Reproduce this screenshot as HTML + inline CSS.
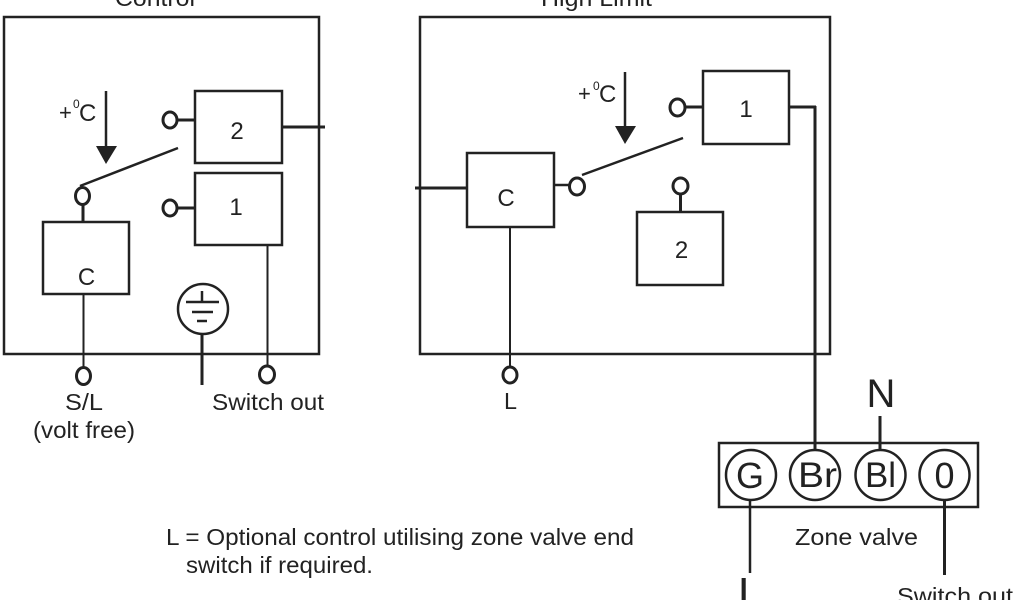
<!DOCTYPE html>
<html>
<head>
<meta charset="utf-8">
<style>
html,body{margin:0;padding:0;background:#fff;width:1024px;height:600px;overflow:hidden}
svg{display:block}
text{font-family:"Liberation Sans",sans-serif;fill:#222}
</style>
</head>
<body>
<svg width="1024" height="600" viewBox="0 0 1024 600" xmlns="http://www.w3.org/2000/svg">
<g fill="none" stroke="#222" stroke-width="2.5">
<!-- Control box -->
<rect x="4" y="17" width="315" height="337"/>
<rect x="195" y="91" width="87" height="72"/>
<rect x="195" y="173" width="87" height="72"/>
<rect x="43" y="222" width="86" height="72"/>
<line x1="282" y1="127" x2="325" y2="127" stroke-width="3"/>
<line x1="177" y1="120" x2="195" y2="120" stroke-width="3"/>
<line x1="177" y1="208" x2="195" y2="208" stroke-width="3"/>
<ellipse cx="170" cy="120" rx="7" ry="8" stroke-width="3"/>
<ellipse cx="170" cy="208" rx="7" ry="8" stroke-width="3"/>
<ellipse cx="82.5" cy="196" rx="7" ry="8.5" stroke-width="3"/>
<line x1="83" y1="204" x2="83" y2="222" stroke-width="3"/>
<line x1="80" y1="186" x2="178" y2="148"/>
<line x1="83.5" y1="294" x2="83.5" y2="368" stroke-width="2"/>
<ellipse cx="83.5" cy="376" rx="7" ry="8.5" stroke-width="3"/>
<line x1="267.5" y1="245" x2="267.5" y2="366" stroke-width="2"/>
<ellipse cx="267" cy="374.5" rx="7.5" ry="8.5" stroke-width="3"/>
<circle cx="203" cy="309" r="25"/>
<line x1="202" y1="334" x2="202" y2="385" stroke-width="3"/>
<line x1="202" y1="291" x2="202" y2="302"/>
<line x1="186" y1="302" x2="219" y2="302"/>
<line x1="192" y1="312" x2="213" y2="312"/>
<line x1="197" y1="321" x2="207" y2="321"/>
<line x1="106" y1="91" x2="106" y2="148"/>
<!-- High limit box -->
<rect x="420" y="17" width="410" height="337"/>
<rect x="703" y="71" width="86" height="73"/>
<rect x="467" y="153" width="87" height="74"/>
<rect x="637" y="212" width="86" height="73"/>
<line x1="415" y1="188" x2="467" y2="188" stroke-width="3"/>
<line x1="554" y1="185" x2="570" y2="185"/>
<ellipse cx="577" cy="186.5" rx="7.5" ry="8.5" stroke-width="3"/>
<line x1="582" y1="175" x2="683" y2="138"/>
<ellipse cx="677.5" cy="107.5" rx="7.5" ry="8.5" stroke-width="3"/>
<line x1="685" y1="107" x2="703" y2="107" stroke-width="3"/>
<ellipse cx="680.5" cy="186" rx="7.5" ry="8" stroke-width="3"/>
<line x1="680.5" y1="194" x2="680.5" y2="212" stroke-width="3"/>
<line x1="789" y1="107" x2="816" y2="107" stroke-width="3"/>
<line x1="815" y1="106" x2="815" y2="449" stroke-width="3"/>
<line x1="625" y1="72" x2="625" y2="128"/>
<line x1="510" y1="227" x2="510" y2="367" stroke-width="2"/>
<ellipse cx="510" cy="375" rx="7" ry="8" stroke-width="3"/>
<!-- Zone valve -->
<rect x="719" y="443" width="259" height="64"/>
<circle cx="751" cy="475" r="25"/>
<circle cx="815" cy="475" r="25"/>
<circle cx="880.5" cy="475" r="25"/>
<circle cx="944.5" cy="475" r="25"/>
<line x1="880" y1="416" x2="880" y2="450" stroke-width="3"/>
<line x1="750" y1="500" x2="750" y2="573"/>
<line x1="944.5" y1="500" x2="944.5" y2="575" stroke-width="3"/>
</g>
<polygon points="96,146 117,146 106,164" fill="#222"/>
<polygon points="615,126 636,126 625,144" fill="#222"/>
<text x="115" y="6" font-size="23" textLength="80" lengthAdjust="spacingAndGlyphs">Control</text>
<text x="541" y="6" font-size="23" textLength="111" lengthAdjust="spacingAndGlyphs">High Limit</text>
<text x="59" y="120" font-size="22">+</text><text x="73" y="108" font-size="12">0</text><text x="79" y="121" font-size="24">C</text>
<text x="578" y="101" font-size="22">+</text><text x="593" y="90" font-size="12">0</text><text x="599" y="102" font-size="24">C</text>
<text x="237" y="139" font-size="24" text-anchor="middle">2</text>
<text x="236" y="215" font-size="24" text-anchor="middle">1</text>
<text x="86.5" y="285" font-size="24" text-anchor="middle">C</text>
<text x="746" y="117" font-size="24" text-anchor="middle">1</text>
<text x="506" y="206" font-size="24" text-anchor="middle">C</text>
<text x="681.5" y="258" font-size="24" text-anchor="middle">2</text>
<text x="65" y="410" font-size="23.5" textLength="38" lengthAdjust="spacingAndGlyphs">S/L</text>
<text x="33" y="438" font-size="23.5" textLength="102" lengthAdjust="spacingAndGlyphs">(volt free)</text>
<text x="212" y="410" font-size="23.5" textLength="112" lengthAdjust="spacingAndGlyphs">Switch out</text>
<text x="504" y="409" font-size="23.5" textLength="13" lengthAdjust="spacingAndGlyphs">L</text>
<text x="881" y="407" font-size="40" text-anchor="middle">N</text>
<text x="750" y="488" font-size="36" text-anchor="middle">G</text>
<text x="798" y="487" font-size="35" textLength="39" lengthAdjust="spacingAndGlyphs">Br</text>
<text x="865" y="487" font-size="35" textLength="31" lengthAdjust="spacingAndGlyphs">Bl</text>
<text x="944.5" y="488" font-size="36" text-anchor="middle">0</text>
<text x="795" y="545" font-size="23.5" textLength="123" lengthAdjust="spacingAndGlyphs">Zone valve</text>
<text x="166" y="545" font-size="23.5" textLength="468" lengthAdjust="spacingAndGlyphs">L = Optional control utilising zone valve end</text>
<text x="186" y="573" font-size="23.5" textLength="187" lengthAdjust="spacingAndGlyphs">switch if required.</text>
<text x="738" y="608" font-size="44">L</text>
<text x="897" y="604" font-size="23.5" textLength="116" lengthAdjust="spacingAndGlyphs">Switch out</text>
</svg>
</body>
</html>
